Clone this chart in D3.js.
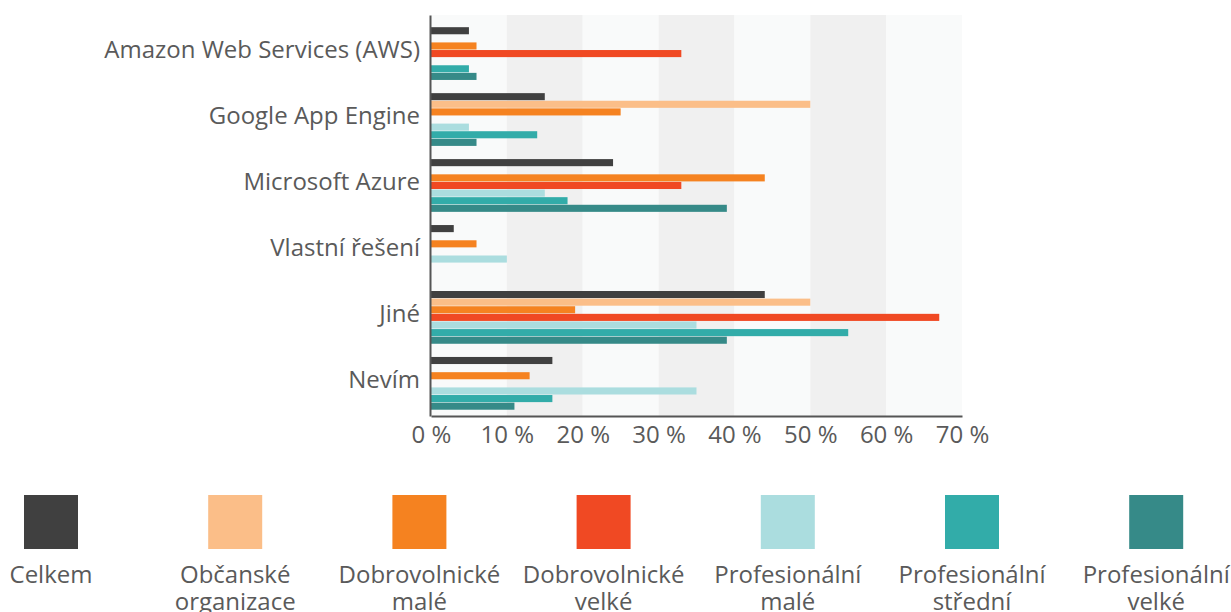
<!DOCTYPE html>
<html>
<head>
<meta charset="utf-8">
<script src="https://cdn.jsdelivr.net/npm/d3@7"></script>
<style>
  body { margin: 0; background: #fff; }
  text { font-family: "Open Sans", sans-serif; fill: #5a5a5a; }
</style>
</head>
<body>
<div id="container"></div>
<script>
/* CONSTANTS AND GLOBALS */
const width = 1231;
const height = 612;
const plot = { left: 431, right: 962, top: 15, bottom: 416 };

/* DATA */
const categories = ["Amazon Web Services (AWS)", "Google App Engine", "Microsoft Azure", "Vlastní řešení", "Jiné", "Nevím"];
const seriesNames = ["Celkem", "Občanské organizace", "Dobrovolnické malé", "Dobrovolnické velké", "Profesionální malé", "Profesionální střední", "Profesionální velké"];
const seriesColors = ["#404040", "#fbbe88", "#f58220", "#f04923", "#abdddf", "#32aca9", "#368a88"];

const celkem = [5, 15, 24, 3, 44, 16];
const obcanske = [0, 50, 0, 0, 50, 0];
const dobrMale = [6, 25, 44, 6, 19, 13];
const dobrVelke = [33, 0, 33, 0, 67, 0];
const profMale = [0, 5, 15, 10, 35, 35];
const profStredni = [5, 14, 18, 0, 55, 16];
const profVelke = [6, 6, 39, 0, 39, 11];

const xTicks = [0, 10, 20, 30, 40, 50, 60, 70];

const seriesValues = [celkem, obcanske, dobrMale, dobrVelke, profMale, profStredni, profVelke];

// flat table: one row per bar
const rows = [];
categories.forEach((c, i) => {
  seriesNames.forEach((s, j) => {
    rows.push({ category: c, series: s, value: seriesValues[j][i] });
  });
});

/* SCALES */
const xScale = d3.scaleLinear()
  .domain([0, 70])
  .range([plot.left, plot.right]);

const yScale = d3.scaleBand()
  .domain(categories)
  .range([plot.top, plot.bottom])
  .paddingInner(0.2)
  .paddingOuter(0.14)
  .align(0.66);

const ySub = d3.scaleBand()
  .domain(seriesNames)
  .range([0, yScale.bandwidth()])
  .paddingInner(0.07);

const colorScale = d3.scaleOrdinal()
  .domain(seriesNames)
  .range(seriesColors);

/* HTML ELEMENTS */
const svg = d3.select("#container")
  .append("svg")
  .attr("width", width)
  .attr("height", height);

// alternating background bands
svg.selectAll("rect.band")
  .data(xTicks.slice(0, -1))
  .join("rect")
  .attr("class", "band")
  .attr("x", d => xScale(d))
  .attr("y", plot.top)
  .attr("width", d => xScale(d + 10) - xScale(d))
  .attr("height", plot.bottom - plot.top)
  .attr("fill", (d, i) => i % 2 === 0 ? "#f9fafa" : "#f0f0f0");

// bars
svg.selectAll("rect.bar")
  .data(rows.filter(d => d.value > 0))
  .join("rect")
  .attr("class", "bar")
  .attr("x", xScale(0))
  .attr("y", d => yScale(d.category) + ySub(d.series))
  .attr("width", d => xScale(d.value) - xScale(0))
  .attr("height", ySub.bandwidth())
  .attr("fill", d => colorScale(d.series));

// x axis
const xAxis = svg.append("g")
  .attr("transform", `translate(0, ${plot.bottom})`)
  .call(d3.axisBottom(xScale)
    .tickValues(xTicks)
    .tickFormat(d => d + " %")
    .tickSize(0)
    .tickPadding(10));
xAxis.select(".domain").attr("stroke", "#555").attr("stroke-width", 2);
xAxis.selectAll("text").style("font-size", "24px").attr("fill", "#5a5a5a").attr("font-family", "Open Sans");

// y axis
const yAxis = svg.append("g")
  .attr("transform", `translate(${plot.left - 1}, 0)`)
  .call(d3.axisLeft(yScale).tickSize(0).tickPadding(10));
yAxis.select(".domain").attr("stroke", "#555").attr("stroke-width", 2);
yAxis.selectAll("text")
  .style("font-size", "24px")
  .attr("fill", "#5a5a5a")
  .attr("font-family", "Open Sans")
  .attr("y", -3);

// legend
const legend = svg.selectAll("g.legend")
  .data(seriesNames)
  .join("g")
  .attr("class", "legend")
  .attr("transform", (d, i) => `translate(${51 + i * 184.2}, 495)`);

legend.append("rect")
  .attr("x", -27)
  .attr("y", 0)
  .attr("width", 54)
  .attr("height", 54)
  .attr("fill", d => colorScale(d));

legend.append("text")
  .attr("text-anchor", "middle")
  .style("font-size", "24px")
  .selectAll("tspan")
  .data(d => d.split(" "))
  .join("tspan")
  .attr("x", 0)
  .attr("y", (d, i) => 88 + i * 27)
  .text(d => d);
</script>
</body>
</html>
